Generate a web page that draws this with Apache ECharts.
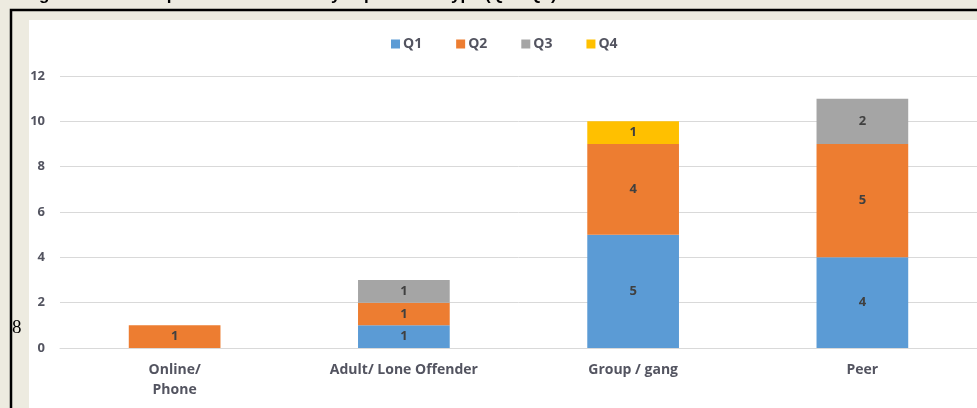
<!DOCTYPE html>
<html>
<head>
<meta charset="utf-8">
<script src="https://cdn.jsdelivr.net/npm/echarts@6/dist/echarts.min.js"></script>
<style>
  html, body { margin: 0; padding: 0; background: #edebe0; }
  #chart { width: 977px; height: 408px; }
</style>
</head>
<body>
<div id="chart"></div>
<script>
const categories = ['Online/\nPhone', 'Adult/ Lone Offender', 'Group / gang', 'Peer']
const q1 = [null, 1, 5, 4]
const q2 = [1, 1, 4, 5]
const q3 = [null, 1, null, 2]
const q4 = [null, null, 1, null]
const seriesNames = ['Q1', 'Q2', 'Q3', 'Q4']
const colors = ['#5b9bd5', '#ed7d31', '#a5a5a5', '#ffc000']

const font = '"Open Sans", sans-serif'
const textColor = '#535460'

const chart = echarts.init(document.getElementById('chart'))

const makeSeries = (name, data, color) => ({
  name,
  type: 'bar',
  stack: 'total',
  data,
  barWidth: '40%',
  itemStyle: { color },
  label: {
    show: true,
    position: 'inside',
    color: '#404040',
    fontFamily: font,
    fontWeight: 'bold',
    fontSize: 13,
  },
})

chart.setOption({
  backgroundColor: '#edebe0',
  animation: false,
  color: colors,
  graphic: [
    {
      type: 'rect',
      z: -10,
      shape: { x: 11, y: 10, width: 1100, height: 600 },
      style: { fill: '#edebe0', stroke: '#000', lineWidth: 2.5 },
    },
    {
      type: 'rect',
      z: -9,
      shape: { x: 29, y: 20, width: 1100, height: 600 },
      style: { fill: '#fff' },
    },
    {
      type: 'text',
      left: 12,
      top: 319,
      style: { text: '8', font: '19px "Liberation Serif", serif', fill: '#000' },
    },
    {
      type: 'text',
      left: 24,
      top: -13,
      style: {
        text: 'Figure 8: Child exploitation referrals by exploitation type (Q1 - Q4)',
        font: 'bold 17px "Liberation Sans", sans-serif',
        fill: '#000',
      },
    },
  ],
  legend: {
    left: 386,
    top: 32,
    itemWidth: 9,
    itemHeight: 9,
    itemGap: 34,
    icon: 'rect',
    textStyle: { color: textColor, fontFamily: font, fontWeight: 'bold', fontSize: 14, padding: [0, 0, 0, -2] },
    data: seriesNames,
  },
  grid: {
    left: 60,
    top: 76,
    width: 918,
    height: 272,
  },
  xAxis: {
    type: 'category',
    data: categories,
    axisLine: { lineStyle: { color: '#d9d9d9', width: 1 } },
    axisTick: { show: false },
    axisLabel: {
      color: textColor,
      fontFamily: font,
      fontWeight: 'bold',
      fontSize: 14,
      margin: 12,
      lineHeight: 20,
    },
  },
  yAxis: {
    type: 'value',
    min: 0,
    max: 12,
    interval: 2,
    axisLine: { show: false },
    axisTick: { show: false },
    axisLabel: {
      color: textColor,
      fontFamily: font,
      fontWeight: 'bold',
      fontSize: 13,
      margin: 15,
    },
    splitLine: { lineStyle: { color: '#d9d9d9', width: 1 } },
  },
  series: [
    makeSeries('Q1', q1, colors[0]),
    makeSeries('Q2', q2, colors[1]),
    makeSeries('Q3', q3, colors[2]),
    makeSeries('Q4', q4, colors[3]),
  ],
})
</script>
</body>
</html>
